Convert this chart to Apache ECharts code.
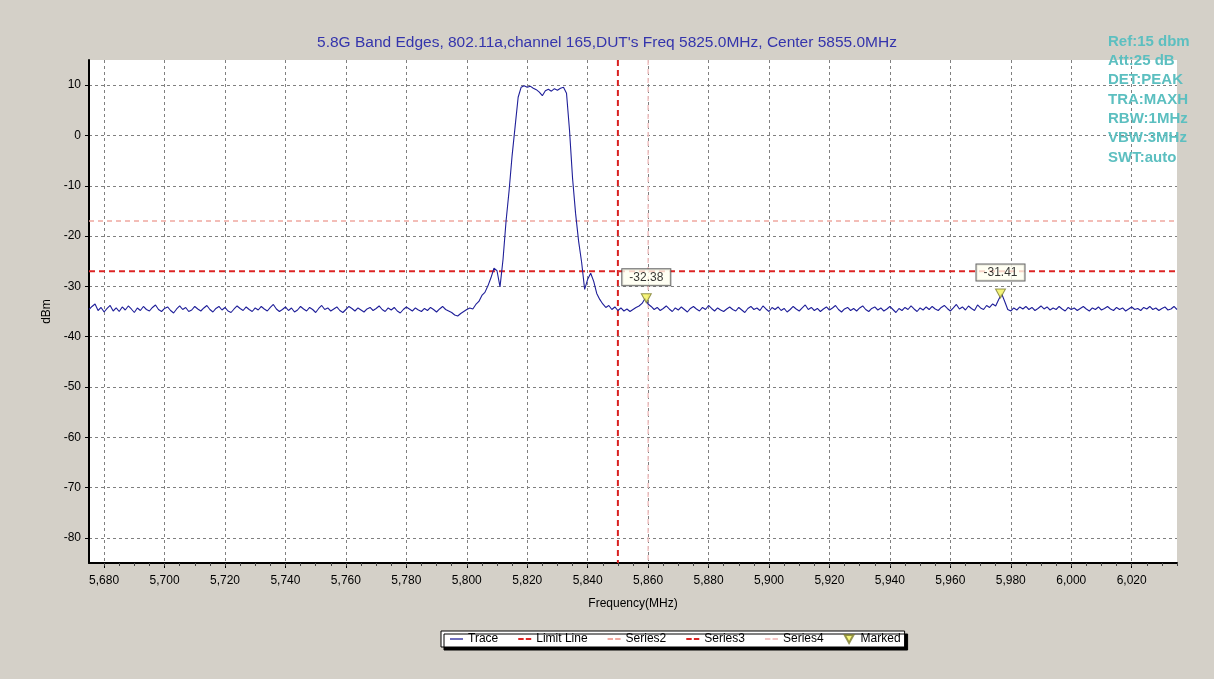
<!DOCTYPE html>
<html>
<head>
<meta charset="utf-8">
<title>5.8G Band Edges</title>
<script src="https://cdn.jsdelivr.net/npm/echarts@6/dist/echarts.min.js"></script>
<style>
  html, body { margin: 0; padding: 0; background: #d4d0c8; }
  #chart { width: 1214px; height: 679px; }
</style>
</head>
<body>
<div id="chart"></div>
<script>
// sweep: 5675 .. 6035 MHz, one reading per MHz
var sweepStart = 5675;
var sweepStep = 1;
var traceDbm = [
  -34.6, -34.0, -33.5, -34.8, -34.2, -35.1, -34.4, -33.8, -34.9, -34.3, -35.0, -34.1, -34.7, -33.9, -34.5, -35.2, -34.3, -34.8, -34.0, -34.6,
  -34.9, -34.2, -33.7, -34.6, -35.0, -34.4, -34.1, -34.8, -35.3, -34.5, -33.9, -34.6, -34.2, -35.0, -34.7, -34.0, -34.5, -34.9, -34.3, -33.8,
  -34.6, -35.1, -34.4, -34.0, -34.7, -34.2, -34.9, -35.2, -34.5, -33.9, -34.4, -34.8, -34.1, -34.6, -35.0, -34.3, -34.7, -34.0, -34.5, -34.9,
  -34.2, -33.6, -34.5, -35.0, -34.6, -34.1, -34.8, -34.3, -35.1, -34.7, -34.0, -34.5, -34.9, -34.2, -34.6, -35.2, -34.4, -33.8, -34.6, -34.3,
  -34.9, -34.5, -34.1, -34.8, -35.2, -34.6, -34.0, -34.4, -34.9, -34.3, -34.7, -35.1, -34.5, -34.2, -34.8, -34.4, -33.9, -34.6, -35.0, -34.3,
  -34.7, -34.2, -34.9, -35.3, -34.6, -34.1, -34.5, -34.9, -34.3, -34.7, -35.0, -34.4, -34.8, -34.2, -34.6, -35.1, -34.5, -34.0, -34.6, -34.9,
  -35.2, -35.7, -35.9, -35.4, -35.0, -34.6, -34.3, -34.5, -33.6, -33.0, -31.8, -31.2, -29.9, -28.3, -26.4, -26.9, -30.1, -24.6, -17.0, -11.0,
  -4.0, 1.8, 7.6, 9.6, 9.9, 9.6, 9.8, 9.4, 9.1, 8.6, 7.9, 8.9, 9.2, 8.8, 9.3, 9.0, 9.4, 9.6, 8.4, 1.0,
  -8.5, -15.5, -21.0, -25.2, -30.6, -28.6, -27.4, -29.0, -31.4, -32.6, -33.5, -34.2, -33.8, -34.6, -34.1, -34.8, -34.3, -34.9, -34.5, -35.0,
  -34.6, -34.2, -33.9, -33.4, -32.4, -33.5, -34.0, -34.6, -34.2, -34.8, -34.4, -33.9, -34.5, -35.0, -34.3, -34.7, -34.1, -34.6, -35.1, -34.4,
  -34.0, -34.5, -34.9, -34.2, -34.6, -33.8, -34.4, -34.9, -34.3, -34.7, -35.0, -34.5, -34.1, -34.6, -34.9, -34.2, -34.7, -35.2, -34.4, -34.0,
  -34.6, -34.3, -34.8, -33.9, -34.5, -35.0, -34.2, -34.6, -34.1, -34.8, -34.4, -35.1, -34.6, -34.0, -34.5, -34.9, -34.3, -33.7, -34.6, -34.2,
  -34.8, -34.4, -35.0, -34.5, -34.1, -34.7, -34.3, -33.8, -34.6, -35.1, -34.5, -34.2, -34.8, -34.4, -34.9, -34.3, -33.9, -34.6, -35.0, -34.4,
  -34.1, -34.7, -34.3, -34.9, -34.5, -34.0, -34.6, -35.2, -34.4, -34.8, -34.2, -34.6, -33.9, -34.5, -35.0, -34.3, -34.7, -34.1, -34.6, -34.0,
  -34.5, -34.8, -34.2, -33.8, -34.4, -34.9, -34.3, -33.6, -34.5, -34.1, -34.7, -33.9, -34.4, -34.8, -33.7, -34.3, -34.6, -33.8, -34.2, -33.5,
  -33.9, -32.6, -31.5, -33.0, -34.6, -34.9, -34.3, -34.7, -34.1, -34.5, -34.0, -34.6, -34.2, -34.8, -34.4, -33.9, -34.5, -34.1, -34.7, -34.3,
  -34.6, -34.0, -34.5, -34.9, -34.2, -34.6, -34.3, -34.8, -34.4, -34.0, -34.5, -34.9, -34.3, -34.6, -34.1, -34.7, -34.4, -34.0, -34.5, -34.8,
  -34.2, -34.6, -34.3, -34.9, -34.5, -34.1, -34.6, -34.4, -34.8, -34.2, -34.5, -34.0, -34.6, -34.3, -34.8, -34.4, -34.1, -34.7, -34.5, -34.0,
  -34.6
];

var freqMin = 5675;
var freqMax = 6035;
var dbmMin = -85;
var dbmMax = 15;
var freqTicks = [5680, 5700, 5720, 5740, 5760, 5780, 5800, 5820, 5840, 5860, 5880, 5900, 5920, 5940, 5960, 5980, 6000, 6020];
var dbmTicks = [-80, -70, -60, -50, -40, -30, -20, -10, 0, 10];

var limitLevel = -27;     // Limit Line
var series2Level = -17;   // Series2
var series3Freq = 5850;   // Series3 (band edge)
var series4Freq = 5860;   // Series4

var markerFreqs = [5859.4, 5976.6];
var markerDbm = [-32.38, -31.41];

var infoLines = ['Ref:15 dbm', 'Att:25 dB', 'DET:PEAK', 'TRA:MAXH', 'RBW:1MHz', 'VBW:3MHz', 'SWT:auto'];

var font = 'Arial, "Liberation Sans", sans-serif';

// legend glyphs: solid dash and "- -"
var iconSolid = 'path://M0,0H12V1.2H0Z';
var iconDash = 'path://M0,0H5V2H0Z M7,0H12V2H7Z';
var iconTri = 'path://M0,0L10,0L5,9Z';

// minor ticks every 5 MHz
var minorTicks = [];
for (var f = freqTicks[0]; f <= freqMax; f += 5) minorTicks.push(f);

var traceData = traceDbm.map(function (v, i) {
  return [sweepStart + i * sweepStep, v];
});
var markerData = markerFreqs.map(function (f, i) {
  return [f, markerDbm[i]];
});

var chart = echarts.init(document.getElementById('chart'), null, { renderer: 'canvas' });

var option = {
  backgroundColor: '#d4d0c8',
  animation: false,
  title: {
    text: "5.8G Band Edges, 802.11a,channel 165,DUT's Freq 5825.0MHz, Center 5855.0MHz",
    left: 'center',
    top: 35,
    padding: 0,
    textStyle: { fontFamily: font, fontSize: 15.5, fontWeight: 'normal', color: '#3434ac' }
  },
  graphic: [{
    type: 'text',
    left: 1108,
    top: 32,
    z: 100,
    style: {
      text: infoLines.join('\n'),
      font: 'bold 15px ' + font,
      lineHeight: 19.3,
      fill: '#5cbfc0'
    }
  }],
  legend: {
    left: 441,
    top: 631,
    itemWidth: 13,
    itemHeight: 8,
    itemGap: 20,
    padding: [2, 4, 2, 9],
    backgroundColor: '#fff',
    borderColor: '#000',
    borderWidth: 1,
    borderRadius: 0,
    shadowColor: '#000',
    shadowBlur: 0,
    shadowOffsetX: 3,
    shadowOffsetY: 3,
    textStyle: { fontFamily: font, fontSize: 12, color: '#000' },
    data: [
      { name: 'Trace', icon: iconSolid },
      { name: 'Limit Line', icon: iconDash },
      { name: 'Series2', icon: iconDash },
      { name: 'Series3', icon: iconDash },
      { name: 'Series4', icon: iconDash },
      { name: 'Marked', icon: iconTri }
    ]
  },
  grid: {
    left: 89,
    right: 37,
    top: 60,
    bottom: 116,
    show: true,
    backgroundColor: '#fff',
    borderWidth: 0
  },
  xAxis: [{
    type: 'value',
    min: freqMin,
    max: freqMax,
    name: 'Frequency(MHz)',
    nameLocation: 'middle',
    nameGap: 35,
    nameTextStyle: { fontFamily: font, fontSize: 12, color: '#000' },
    axisLine: { show: true, onZero: false, lineStyle: { color: '#000', width: 2 } },
    axisTick: { show: true, customValues: freqTicks, length: 5, lineStyle: { color: '#000' } },
    axisLabel: {
      customValues: freqTicks,
      margin: 12,
      fontFamily: font,
      fontSize: 12,
      color: '#000',
      formatter: function (v) { return v.toLocaleString('en-US'); }
    },
    splitLine: { show: true, lineStyle: { color: '#808080', width: 1, type: [3, 3] } }
  }, {
    type: 'value',
    min: freqMin,
    max: freqMax,
    position: 'bottom',
    axisLine: { show: false, onZero: false },
    axisTick: { show: true, customValues: minorTicks, length: 3, lineStyle: { color: '#444' } },
    axisLabel: { show: false },
    splitLine: { show: false }
  }],
  yAxis: {
    type: 'value',
    min: dbmMin,
    max: dbmMax,
    name: 'dBm',
    nameLocation: 'middle',
    nameGap: 33,
    nameTextStyle: { fontFamily: font, fontSize: 12, color: '#000' },
    axisLine: { show: true, onZero: false, lineStyle: { color: '#000', width: 2 } },
    axisTick: { show: true, customValues: dbmTicks, length: 4, lineStyle: { color: '#000' } },
    axisLabel: { customValues: dbmTicks, margin: 8, fontFamily: font, fontSize: 12, color: '#000' },
    splitLine: { show: true, lineStyle: { color: '#808080', width: 1, type: [3, 3] } }
  },
  series: [{
    name: 'Trace',
    type: 'line',
    data: traceData,
    symbol: 'none',
    z: 4,
    lineStyle: { color: '#1f1f99', width: 1.1 },
    itemStyle: { color: '#1f1f99' }
  }, {
    name: 'Limit Line',
    type: 'line',
    data: [[freqMin, limitLevel], [freqMax, limitLevel]],
    symbol: 'none',
    z: 3,
    lineStyle: { color: '#dd2424', width: 2, type: [6, 4] },
    itemStyle: { color: '#dd2424' }
  }, {
    name: 'Series2',
    type: 'line',
    data: [[freqMin, series2Level], [freqMax, series2Level]],
    symbol: 'none',
    z: 3,
    lineStyle: { color: '#f0a8a0', width: 1.5, type: [5, 4] },
    itemStyle: { color: '#f0a8a0' }
  }, {
    name: 'Series3',
    type: 'line',
    data: [[series3Freq, dbmMax], [series3Freq, dbmMin]],
    symbol: 'none',
    z: 3,
    lineStyle: { color: '#d82020', width: 2, type: [6, 4] },
    itemStyle: { color: '#d82020' }
  }, {
    name: 'Series4',
    type: 'line',
    data: [[series4Freq, dbmMax], [series4Freq, dbmMin]],
    symbol: 'none',
    z: 3,
    lineStyle: { color: '#f2c4c4', width: 1.5, type: [5, 4] },
    itemStyle: { color: '#f2c4c4' }
  }, {
    name: 'Marked',
    type: 'scatter',
    data: markerData,
    symbol: 'triangle',
    symbolRotate: 180,
    symbolSize: [10, 9],
    z: 6,
    itemStyle: { color: '#f2f25a', borderColor: '#7a7a30', borderWidth: 1 },
    label: {
      show: true,
      position: 'top',
      distance: 8,
      formatter: function (p) { return p.value[1].toFixed(2); },
      fontFamily: font,
      fontSize: 12,
      color: '#000',
      backgroundColor: '#fffff0',
      borderColor: '#404040',
      borderWidth: 1,
      padding: [2, 7]
    }
  }]
};

chart.setOption(option);
</script>
</body>
</html>
